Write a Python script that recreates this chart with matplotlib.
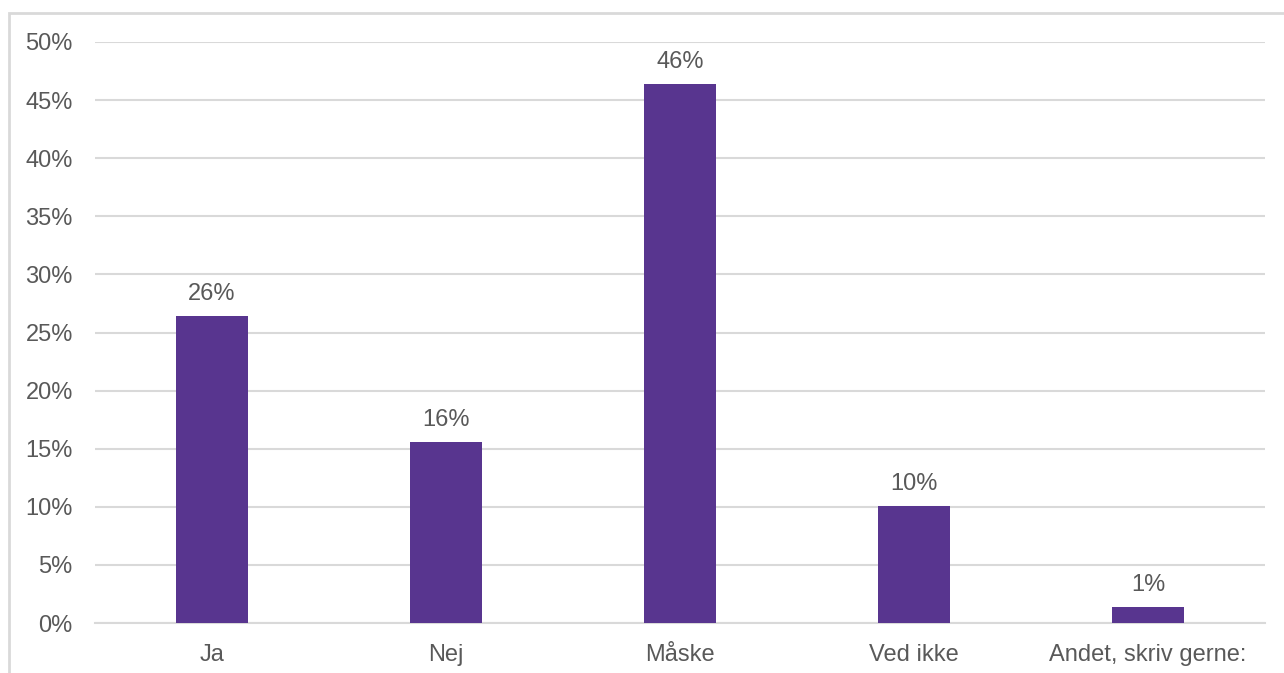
import matplotlib.pyplot as plt
from matplotlib.patches import Rectangle
from matplotlib.ticker import FuncFormatter

categories = ['Ja', 'Nej', 'Måske', 'Ved ikke', 'Andet, skriv gerne:']
values = [26.4, 15.6, 46.4, 10.1, 1.4]
labels = ['26%', '16%', '46%', '10%', '1%']

plt.rcParams['font.family'] = ['Liberation Sans', 'DejaVu Sans']
text_col = '#595959'
grid_col = '#d9d9d9'
bar_col = '#58358f'

W, H = 1284, 673
fig = plt.figure(figsize=(W / 100, H / 100), dpi=100)
# chart frame (right and bottom edges fall outside the picture)
fig.patches.append(Rectangle((9 / W, -0.1), 1.2, (673 - 13) / H + 0.1, transform=fig.transFigure,
                             fill=False, edgecolor=grid_col, linewidth=2))

ax = fig.add_axes([95 / W, (673 - 623) / H, (1265 - 95) / W, (623 - 42) / H])
x = range(len(categories))
ax.bar(x, values, width=0.31, color=bar_col, zorder=3)
for xi, v, lab in zip(x, values, labels):
    ax.annotate(lab, (xi, v), xytext=(0, 8), textcoords='offset points',
                ha='center', va='bottom', fontsize=17, color=text_col)

ax.set_xlim(-0.5, len(categories) - 0.5)
ax.set_ylim(0, 50)
ax.set_yticks(range(0, 51, 5))
ax.yaxis.set_major_formatter(FuncFormatter(lambda v, p: f'{v:.0f}%'))
ax.set_xticks(list(x))
ax.set_xticklabels(categories)
ax.tick_params(axis='both', length=0, labelsize=17, labelcolor=text_col)
ax.tick_params(axis='y', pad=16)
ax.tick_params(axis='x', pad=15)
ax.grid(axis='y', color=grid_col, linewidth=1.5, zorder=0)
for s in ['top', 'right', 'left']:
    ax.spines[s].set_visible(False)
ax.spines['bottom'].set_color(grid_col)
ax.spines['bottom'].set_linewidth(1.5)

fig.savefig('out.png', dpi=100)
